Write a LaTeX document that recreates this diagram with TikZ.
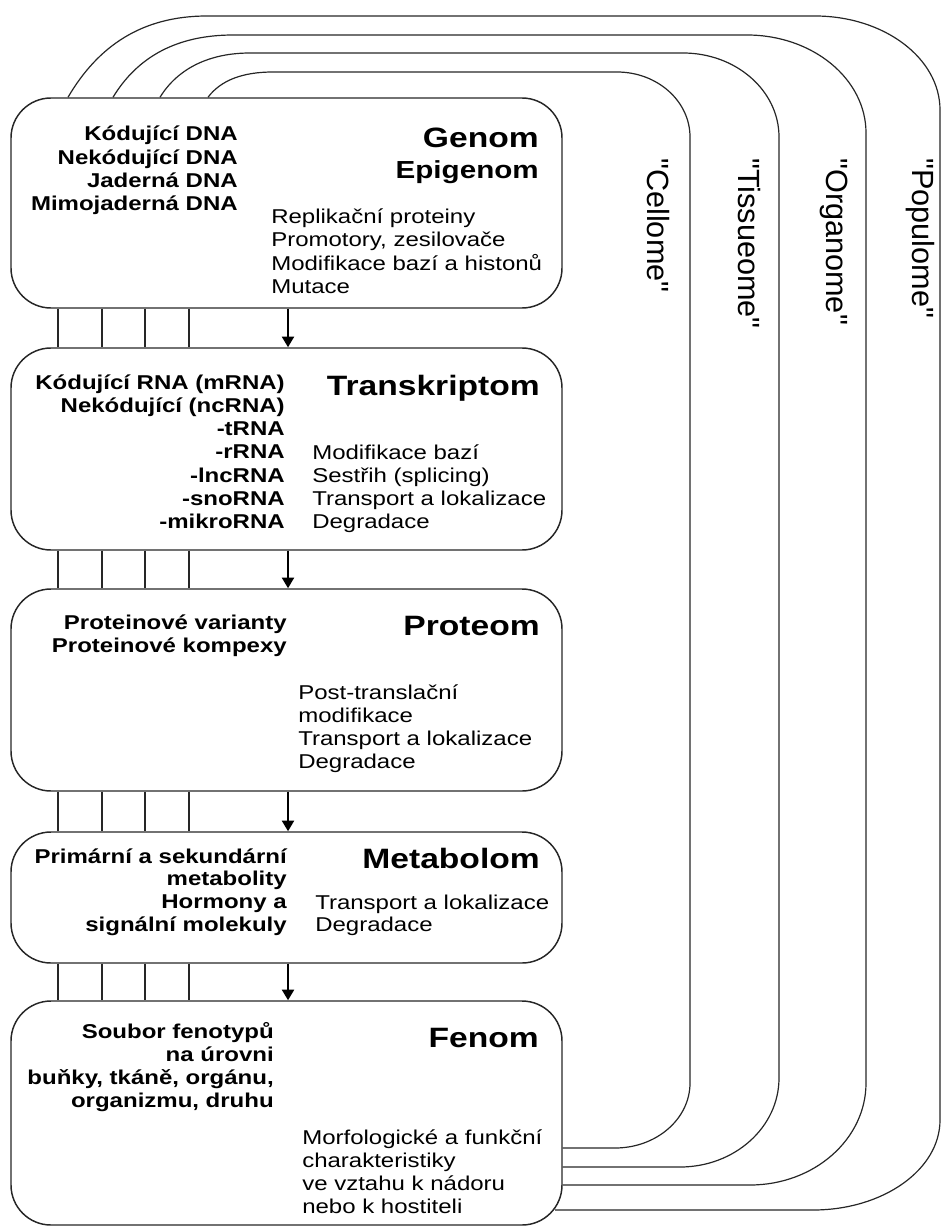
\documentclass[tikz,border=0pt]{standalone}
\usepackage{fontspec}
\setmainfont{Liberation Sans}[FakeStretch=1.2]
\newfontfamily\labfont{Liberation Sans}
\usetikzlibrary{fit,arrows.meta}
\tikzset{
  boxst/.style={draw=black!85, line width=1.1pt, rounded corners=30pt, inner sep=0pt, fit={#1}},
  lt/.style={anchor=base east, inner sep=0pt, font=\fontsize{15}{17}\selectfont\bfseries},
  rt/.style={anchor=base west, inner sep=0pt, font=\fontsize{15}{17}\selectfont},
  ttl/.style={anchor=base east, inner sep=0pt, font=\fontsize{21}{24}\selectfont\bfseries},
  conn/.style={line width=1pt, draw=black!85},
  flow/.style={line width=1.7pt, draw=black, -{Triangle[width=9pt,length=8pt]}},
  loopst/.style={line width=0.9pt, draw=black!85},
  lab/.style={rotate=-90, anchor=west, inner sep=0pt, font=\labfont\fontsize{23}{27}\selectfont},
}
\begin{document}
\begin{tikzpicture}[x=0.75pt,y=-0.75pt]
\useasboundingbox (0,0) rectangle (942,1227);

% boxes
\node[boxst={(11,98) (562,308)}] (genom) {};
\node[boxst={(11,348) (562,550)}] (trans) {};
\node[boxst={(11,589) (562,791)}] (prot) {};
\node[boxst={(11,832) (562,963)}] (meta) {};
\node[boxst={(11,1001) (562,1225)}] (fen) {};

% Genom
\foreach \t [count=\i] in {Kódující DNA, Nekódující DNA, Jaderná DNA, Mimojaderná DNA}
  \node[lt] (gl\i) at (238,{141+23.3*(\i-1)}) {\t};
\node[ttl] (gt) at (539,148) {Genom};
\node[ttl, font=\fontsize{18.5}{22}\selectfont\bfseries] (gt2) at (539,179) {Epigenom};
\foreach \t [count=\i] in {Replikační proteiny, {Promotory, zesilovače}, Modifikace bazí a histonů, Mutace}
  \node[rt] (gr\i) at (271,{223+23.6*(\i-1)}) {\t};

% Transkriptom
\foreach \t [count=\i] in {Kódující RNA (mRNA), Nekódující (ncRNA), -tRNA, -rRNA, -lncRNA, -snoRNA, -mikroRNA}
  \node[lt] (tl\i) at (285,{389+23.3*(\i-1)}) {\t};
\node[ttl] (tt) at (540,395) {Transkriptom};
\foreach \t [count=\i] in {Modifikace bazí, Sestřih (splicing), Transport a lokalizace, Degradace}
  \node[rt] (tr\i) at (312,{459+23.3*(\i-1)}) {\t};

% Proteom
\foreach \t [count=\i] in {Proteinové varianty, Proteinové kompexy}
  \node[lt] (pl\i) at (287,{629+23.5*(\i-1)}) {\t};
\node[ttl] (pt) at (540,635) {Proteom};
\foreach \t [count=\i] in {Post-translační, modifikace, Transport a lokalizace, Degradace}
  \node[rt] (pr\i) at (298,{699+23.3*(\i-1)}) {\t};

% Metabolom
\foreach \t [count=\i] in {Primární a sekundární, metabolity, Hormony a, signální molekuly}
  \node[lt] (ml\i) at (287,{863+22.7*(\i-1)}) {\t};
\node[ttl] (mt) at (540,868) {Metabolom};
\foreach \t [count=\i] in {Transport a lokalizace, Degradace}
  \node[rt] (mr\i) at (315,{909+22.7*(\i-1)}) {\t};

% Fenom
\foreach \t [count=\i] in {Soubor fenotypů, na úrovni, {buňky, tkáně, orgánu,}, {organizmu, druhu}}
  \node[lt] (fl\i) at (274,{1038+23.3*(\i-1)}) {\t};
\node[ttl] (ft) at (539,1047) {Fenom};
\foreach \t [count=\i] in {Morfologické a funkční, charakteristiky, ve vztahu k nádoru, nebo k hostiteli}
  \node[rt] (fr\i) at (302,{1144+23.3*(\i-1)}) {\t};

% connectors between levels
\coordinate (c1) at (58,0);
\coordinate (c2) at (102,0);
\coordinate (c3) at (145,0);
\coordinate (c4) at (189,0);
\coordinate (ca) at (288,0);
\foreach \a/\b in {genom/trans, trans/prot, prot/meta, meta/fen} {
  \foreach \c in {c1,c2,c3,c4}
    \draw[conn] (\a.south -| \c) -- (\b.north -| \c);
  \draw[flow] (\a.south -| ca) -- (\b.north -| ca);
}

% loops
\coordinate (p1) at (68,0);
\coordinate (p2) at (113,0);
\coordinate (p3) at (160,0);
\coordinate (p4) at (208,0);
\coordinate (q1) at (0,1148);
\coordinate (q2) at (0,1167);
\coordinate (q3) at (0,1185);
\coordinate (q4) at (555,1210);

% Cellome
\draw[loopst] (genom.north -| p4) .. controls (221,80) and (243,72) .. (273,72)
  -- (617,72) .. controls (657.3,72) and (690,101.1) .. (690,137)
  -- (690,1083) .. controls (690,1118.9) and (656.4,1148) .. (615,1148)
  -- (fen.east |- q1);
% Tissueome
\draw[loopst] (genom.north -| p3) .. controls (178,68) and (210,53) .. (250,53)
  -- (683,53) .. controls (736,53) and (779,90.6) .. (779,137)
  -- (779,1078) .. controls (779,1127.2) and (734.7,1167) .. (680,1167)
  -- (fen.east |- q2);
% Organome
\draw[loopst] (genom.north -| p2) .. controls (138,56) and (178,35) .. (233,35)
  -- (747,35) .. controls (812.7,35) and (866,78.9) .. (866,133)
  -- (866,1083) .. controls (866,1139.3) and (814.1,1185) .. (750,1185)
  -- (fen.east |- q3);
% Populome
\draw[loopst] (genom.north -| p1) .. controls (98,46) and (142,16) .. (207,16)
  -- (815,16) .. controls (884,16) and (940,58.1) .. (940,110)
  -- (940,1120) .. controls (940,1169.7) and (883.1,1210) .. (813,1210)
  -- (q4);

% level labels
\node[lab] (lcell) at (658,158) {"Cellome"};
\node[lab] (ltis) at (749,158) {"Tissueome"};
\node[lab] (lorg) at (834,158) {"Organome"};
\node[lab] (lpop) at (920,158) {"Populome"};
\end{tikzpicture}
\end{document}
